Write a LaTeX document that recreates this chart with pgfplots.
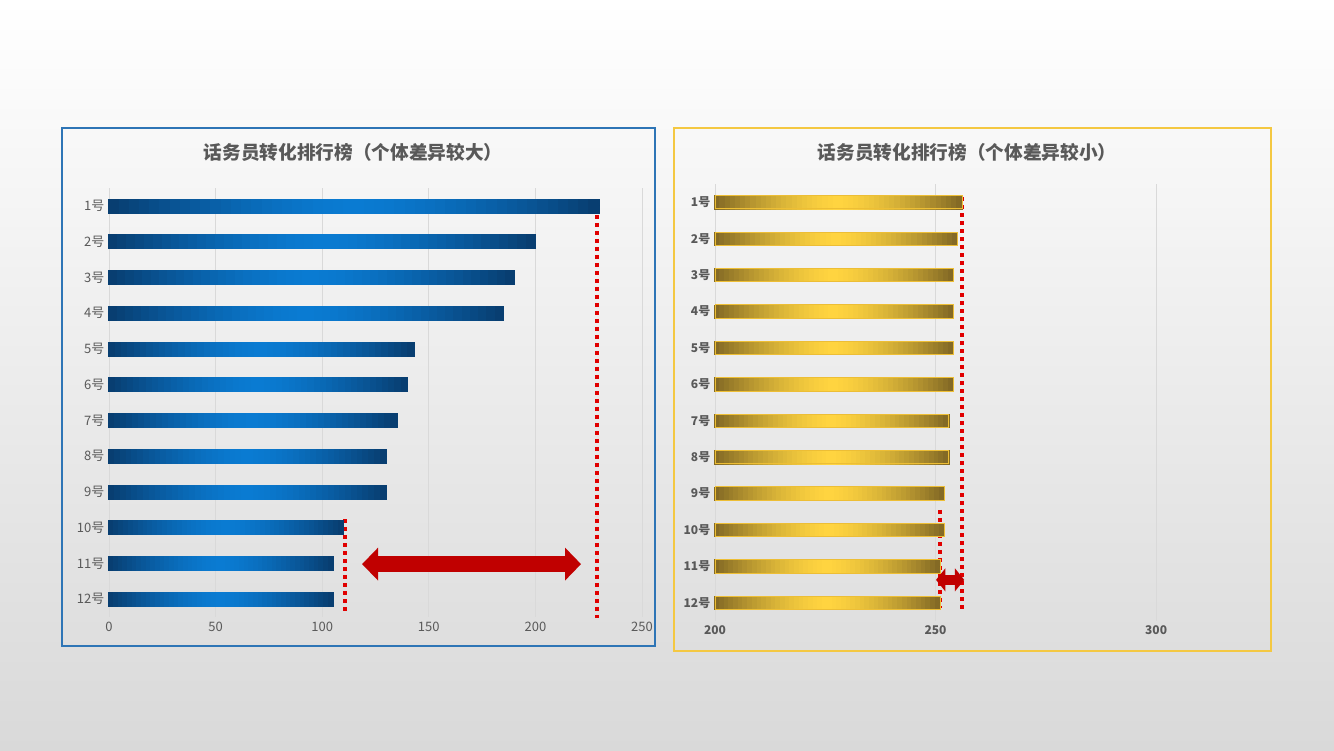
\documentclass[border=0pt]{standalone}
\usepackage{fontspec}
\setmainfont{Noto Sans CJK SC}
\usepackage{pgfplots}
\pgfplotsset{compat=1.18}
\usetikzlibrary{arrows.meta}

\definecolor{bgbot}{HTML}{D9D9D9}
\definecolor{txtgray}{HTML}{595959}
\definecolor{gridgray}{HTML}{D9D9D9}
\definecolor{boxblue}{HTML}{2E75B6}
\definecolor{boxgold}{HTML}{F4C842}
\definecolor{navyend}{HTML}{083C6E}
\definecolor{bluemid}{HTML}{0A7BD2}
\definecolor{goldend}{HTML}{806724}
\definecolor{goldmid}{HTML}{FFD440}
\definecolor{goldline}{HTML}{EDBE35}
\definecolor{dotred}{HTML}{E00000}
\definecolor{arrowred}{HTML}{C00000}

% values, 1号 ... 12号
\pgfplotstableread{
y  big  small
1  230  256
2  200  255
3  190  254
4  185  254
5  143  254
6  140  254
7  135  253
8  130  253
9  130  252
10 110  252
11 105  251
12 105  251
}\ranking

% gradient bar drawn leftwards from the data point: #1 length (pt), #2 half height, #3 end colour, #4 middle colour
\newcommand{\gradbar}[4]{%
  \pgfmathsetmacro\stp{#1/48}%
  \foreach \i in {0,...,47}{%
    \pgfmathsetmacro\xa{-#1+\stp*\i}%
    \pgfmathsetmacro\xb{-#1+\stp*(\i+1)}%
    \pgfmathsetmacro\aa{abs((2*\i+1)/48-1)}%
    \pgfmathsetmacro\m{100*\aa*sqrt(\aa)}%
    \fill[#3!\m!#4] (\xa pt-0.3pt,-#2) rectangle (\xb pt,#2);
  }%
}

\pgfplotsset{
  rankaxis/.style={
    scale only axis,
    y dir=reverse,
    ymin=0.5, ymax=12.5,
    ytick={1,...,12},
    yticklabels={1号,2号,3号,4号,5号,6号,7号,8号,9号,10号,11号,12号},
    xmajorgrids,
    grid style={gridgray, line width=0.75pt},
    axis line style={draw=none},
    tick style={draw=none},
    /pgf/number format/assume math mode=true,
    clip=false,
  },
}

\begin{document}
\begin{tikzpicture}
  % page background
  \shade[top color=white, bottom color=bgbot] (0pt,0pt) rectangle (1000.5pt,-562.5pt);
  \draw[boxblue, line width=1pt] (46.5pt,-96pt) rectangle (491.25pt,-484.5pt);
  \draw[boxgold, line width=1pt] (505.5pt,-96pt) rectangle (953.25pt,-488.25pt);
  \node[txtgray, font=\fontsize{14}{16}\selectfont\bfseries] at (264.75pt,-114pt) {话务员转化排行榜（个体差异较大）};
  \node[txtgray, font=\fontsize{14}{16}\selectfont\bfseries] at (725.25pt,-114pt) {话务员转化排行榜（个体差异较小）};

  % left: large spread (250 units over 399.75pt)
  \begin{axis}[rankaxis,
    at={(81.75pt,-462.75pt)}, anchor=south west,
    width=399.75pt, height=321.75pt,
    xmin=0, xmax=250,
    xtick={0,50,...,250},
    ticklabel style={txtgray, font=\fontsize{9.75}{10}\selectfont},
  ]
    \addplot[scatter, only marks, mark=*, mark size=0pt,
      mark options={draw=none, fill=none},
      visualization depends on={\thisrow{big} \as \barval},
      scatter/@pre marker code/.code={%
        \pgfmathsetmacro\L{\barval*1.599}%
        \gradbar{\L}{5.25pt}{navyend}{bluemid}},
      scatter/@post marker code/.code={}]
      table[x=big, y=y] {\ranking};
    \draw[dotred, line width=3pt, dash pattern=on 3pt off 3pt] (axis cs:229,1.03) -- (axis cs:229,12.53);
    \draw[dotred, line width=3pt, dash pattern=on 3pt off 3pt] (axis cs:110.7,9.76) -- (axis cs:110.7,12.44);
    \draw[arrowred, line width=12pt,
      {Triangle[length=12pt,width=24pt]}-{Triangle[length=12pt,width=24pt]}]
      (axis cs:118.7,11.02) -- (axis cs:221.4,11.02);
  \end{axis}

  % right: small spread, axis starts at 200 (124 units over 410.25pt)
  \begin{axis}[rankaxis,
    at={(536.25pt,-465.75pt)}, anchor=south west,
    width=410.25pt, height=327.75pt,
    x coord trafo/.code={\pgfmathparse{#1-200}},
    x coord inv trafo/.code={\pgfmathparse{#1+200}},
    xmin=200, xmax=324,
    xtick={200,250,300},
    xticklabels={200,250,300},
    ticklabel style={txtgray, font=\fontsize{9}{10}\selectfont\bfseries},
  ]
    \addplot[scatter, only marks, mark=*, mark size=0pt,
      mark options={draw=none, fill=none},
      visualization depends on={\thisrow{small} \as \barval},
      scatter/@pre marker code/.code={%
        \pgfmathsetmacro\L{(\barval-200)*3.3085}%
        \gradbar{\L}{5pt}{goldend}{goldmid}%
        \draw[goldline, line width=0.6pt] (-\L pt,-5pt) rectangle (0pt,5pt);},
      scatter/@post marker code/.code={}]
      table[x=small, y=y] {\ranking};
    \draw[dotred, line width=3pt, dash pattern=on 3pt off 3pt] (axis cs:256,0.86) -- (axis cs:256,12.2);
    \draw[dotred, line width=3pt, dash pattern=on 3pt off 3pt] (axis cs:251,9.45) -- (axis cs:251,12.14);
    \draw[arrowred, line width=7.5pt,
      {Triangle[length=7pt,width=17pt]}-{Triangle[length=7pt,width=17pt]}]
      (axis cs:250.1,11.37) -- (axis cs:256.5,11.37);
  \end{axis}
\end{tikzpicture}
\end{document}
